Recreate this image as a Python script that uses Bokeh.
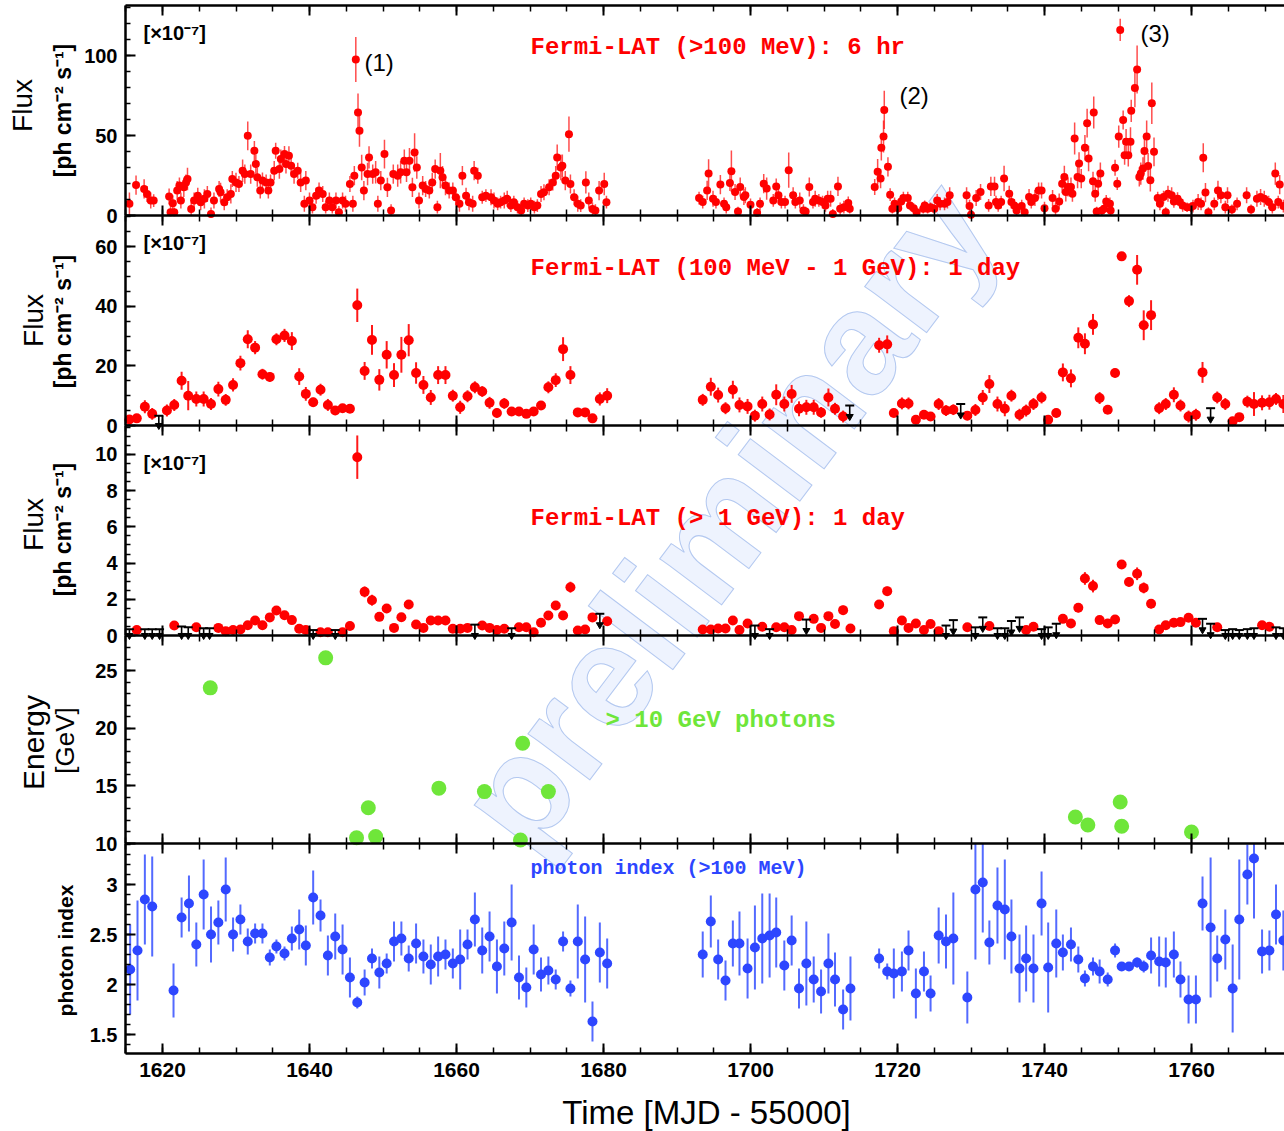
import numpy as np
from bokeh.plotting import figure
from bokeh.models import (Range1d, LinearAxis, FixedTicker, SingleIntervalTicker, Label,
                          ColumnDataSource, CustomJSTickFormatter)
from bokeh.embed import file_html
from bokeh.resources import INLINE

# ---------------- data (MJD - 55000) ----------------
# Panel 1: Fermi-LAT >100 MeV, 6 hr bins  [1e-7 ph cm-2 s-1]
t1a = [
1615.5, 1616.4, 1617.5, 1617.9, 1618.4, 1618.8, 1620.9, 1621.1, 1621.4, 1621.6,
1622.0, 1622.3, 1622.5, 1622.9, 1623.2, 1623.4, 1623.9, 1624.3, 1624.8, 1625.2,
1625.7, 1626.1, 1626.6, 1627.0, 1627.7, 1627.9, 1628.4, 1628.8, 1629.3, 1629.5,
1630.0, 1630.4, 1630.9, 1631.2, 1631.6, 1632.0, 1632.5, 1632.7, 1632.9, 1633.3,
1633.6, 1634.1, 1634.4, 1634.7, 1635.2, 1635.4, 1635.9, 1636.1, 1636.6, 1636.8,
1637.2, 1637.5, 1637.9, 1638.4, 1638.8, 1639.3, 1639.5, 1640.0, 1640.4, 1640.9,
1641.3, 1641.8, 1642.2, 1642.7, 1643.1, 1643.6, 1644.0, 1644.5, 1644.9, 1645.5,
1645.9, 1646.1, 1646.3, 1646.6, 1646.8, 1647.1, 1647.4, 1647.9, 1648.1, 1648.6,
1649.0, 1649.3, 1649.7, 1650.2, 1650.6, 1651.1, 1651.4, 1652.0, 1652.4, 1652.9,
1653.2, 1653.6, 1654.0, 1654.3, 1654.6, 1654.9, 1655.4, 1655.8, 1656.3, 1656.7,
1657.1, 1657.4, 1657.8, 1658.1, 1658.5, 1659.0, 1659.5, 1659.9, 1660.4, 1660.8,
1661.3, 1661.7, 1662.2, 1662.4, 1662.9, 1663.5, 1664.0, 1664.7, 1665.1, 1665.6,
1666.0, 1666.5, 1666.9, 1667.4, 1667.8, 1668.3, 1668.8, 1669.2, 1669.7, 1670.1,
1670.6, 1671.0, 1671.5, 1671.9, 1672.6, 1673.1, 1673.5, 1673.7, 1674.2, 1674.4,
1674.8, 1675.3, 1675.5, 1676.0, 1676.5, 1676.9, 1677.6, 1678.0, 1678.5, 1678.9,
1679.4, 1680.1, 1680.4]
f1a = [
7.3, 19, 16.6, 13.5, 9.3, 9.3, 11.8, 2, 7.7, 2,
15.6, 18.7, 9.3, 17.6, 20.7, 22.8, 4.1, 9.3, 12.4, 8.3,
10.4, 13.5, 1, 9.3, 16.6, 14.5, 8.3, 11.4, 13.5, 22.8,
20.7, 19.7, 28, 25.9, 49.8, 25.9, 40.5, 32.2, 23.9, 15.6,
21.8, 20.7, 15.6, 20.7, 28, 40.5, 29, 35.3, 38.4, 32.2,
37.3, 31.1, 25.9, 28, 20.7, 7.3, 21.8, 9.3, 5.2, 12.4,
15.6, 13.5, 5.2, 9.3, 5.2, 9.3, 2, 9.3, 7.3, 19.7,
7.3, 24.9, 97.5, 64.3, 52.9, 30, 15.6, 25.9, 36.3, 25.9,
27, 7.3, 21.8, 38.4, 17.6, 3.1, 25.9, 24.9, 27, 34.2,
27, 34.2, 17.6, 39.4, 30, 9.3, 18.7, 16.6, 15.6, 20.7,
29, 5.2, 28, 23.9, 18.7, 15.6, 15.6, 11.4, 7.3, 24.9,
12.4, 8.3, 7.3, 28, 24.9, 11.4, 12.4, 11.4, 9.3, 7.3,
8.3, 9.3, 10.4, 6.2, 8.3, 5.2, 3.1, 7.3, 6.2, 7.3,
5.2, 6.2, 13.5, 14.5, 17.6, 20.7, 24.9, 36.3, 30, 31.1,
21.8, 50.8, 19.7, 11.4, 7.3, 6.2, 20.7, 9.3, 4.1, 3.1,
15.6, 19.7, 8.3]
e1a = [
7, 6, 6, 5, 5, 4, 5, 4, 5, 3,
6, 5, 5, 6, 5, 7, 4, 5, 5, 5,
6, 5, 4, 5, 5, 6, 5, 5, 6, 5,
6, 5, 7, 6, 9, 6, 6, 6, 6, 5,
5, 5, 5, 5, 6, 5, 6, 6, 5, 6,
6, 5, 6, 5, 6, 5, 6, 5, 4, 5,
5, 5, 4, 5, 4, 5, 4, 5, 5, 5,
5, 6, 14, 12, 10, 8, 6, 7, 7, 6,
7, 5, 6, 9, 6, 4, 6, 7, 7, 7,
6, 8, 6, 12, 7, 5, 6, 5, 5, 6,
6, 4, 11, 7, 6, 5, 5, 5, 5, 6,
5, 5, 5, 6, 5, 4, 4, 5, 5, 4,
4, 5, 5, 4, 4, 4, 4, 4, 4, 4,
4, 4, 5, 5, 5, 5, 6, 8, 8, 7,
6, 11, 6, 5, 5, 4, 7, 5, 4, 4,
6, 7, 4]
t1b = [
1693.0, 1693.5, 1694.1, 1694.3, 1694.9, 1695.3, 1695.9, 1696.4, 1696.7, 1697.2,
1697.4, 1697.9, 1698.3, 1698.6, 1699.1, 1699.3, 1700.0, 1700.9, 1701.3, 1701.8,
1702.2, 1703.1, 1703.5, 1703.8, 1704.2, 1704.7, 1705.2, 1705.8, 1706.1, 1706.7,
1707.2, 1707.5, 1708.0, 1708.5, 1708.8, 1709.3, 1709.8, 1710.2, 1710.5, 1710.9,
1711.2, 1711.9, 1712.2, 1712.7, 1713.3, 1713.5, 1716.9, 1717.3, 1717.7, 1717.8,
1718.1, 1718.2, 1718.7, 1719.0, 1719.3, 1719.6, 1720.1, 1720.5, 1720.8, 1721.4,
1721.7, 1722.2, 1722.6, 1723.5, 1723.7, 1724.1, 1724.5, 1725.0, 1725.4, 1725.8,
1726.4, 1726.8, 1727.1, 1729.4, 1729.8, 1730.0, 1730.7, 1731.3, 1732.4, 1732.7,
1733.2, 1733.4, 1733.7, 1734.1, 1734.5, 1735.2, 1735.5, 1735.9, 1736.2, 1736.9,
1737.3, 1737.9, 1738.2, 1738.7, 1739.2, 1739.6, 1740.0, 1741.1, 1741.5, 1742.0,
1742.4, 1742.7, 1742.9, 1743.2, 1743.6, 1743.8, 1744.1, 1744.5, 1744.7, 1745.0,
1745.5, 1745.8, 1746.0, 1746.6, 1746.7, 1746.9, 1747.1, 1747.3, 1747.6, 1747.8,
1748.1, 1748.4, 1748.9, 1749.0, 1749.6, 1749.9, 1750.1, 1750.3, 1750.7, 1750.9,
1751.1, 1751.4, 1751.7, 1751.8, 1752.3, 1752.6, 1752.9, 1753.1, 1753.4, 1753.6,
1753.9, 1754.1, 1754.4, 1754.6, 1754.9, 1755.4, 1755.7, 1756.2, 1756.5, 1756.8,
1757.3, 1757.6, 1758.1, 1758.4, 1758.8, 1759.4, 1759.9, 1760.2, 1760.9, 1761.3,
1761.6, 1761.9, 1762.3, 1763.1, 1763.6, 1764.0, 1764.6, 1764.9, 1765.5, 1766.2,
1767.5, 1768.1, 1768.9, 1769.4, 1769.9, 1770.5, 1771.0, 1771.4, 1771.8, 1772.0,
1772.5]
f1b = [
10.9, 8.4, 15.7, 26.2, 10.5, 8.4, 19.3, 7.3, 5.2, 20.3,
27.7, 14.7, 2.5, 17.8, 11.5, 12.6, 6.7, 1.7, 7.3, 19.9,
16.8, 9.4, 18.2, 12.6, 8.4, 8.4, 28.3, 12.6, 8.4, 9.4,
3.1, 2.5, 17.8, 8.4, 10.5, 9.4, 8.4, 6.3, 10.5, 10.5,
1.0, 18.2, 4.2, 5.2, 7.8, 4.2, 17.8, 27.3, 23.1, 42.3,
49.3, 66.0, 30.4, 13.0, 4.2, 7.3, 4.6, 8.8, 10.9, 10.9,
6.3, 4.6, 2.1, 4.2, 6.3, 4.2, 5.2, 4.2, 9.4, 7.3,
7.3, 8.4, 12.6, 12.6, 5.9, 0.5, 10.9, 14.7, 6.3, 18.2,
18.2, 8.4, 6.3, 8.4, 23.1, 13.6, 8.4, 6.3, 3.1, 5.9,
2.1, 11.5, 8.4, 10.9, 15.7, 15.7, 4.6, 10.9, 4.2, 8.8,
19.9, 24.1, 14.7, 17.8, 17.8, 13.6, 48.2, 24.1, 32.5, 23.1,
42.3, 57.7, 35.6, 21.4, 64.4, 13.6, 2.5, 19.9, 26.2, 3.1,
4.2, 8.8, 7.3, 3.1, 29.8, 19.9, 49.3, 116.0, 59.7, 37.7,
46.1, 37.7, 46.1, 65.4, 79.7, 91.2, 24.1, 26.2, 29.4, 40.3,
49.3, 31.0, 22.0, 70.2, 39.8, 10.9, 7.3, 11.5, 2.1, 13.6,
12.6, 8.8, 10.5, 8.4, 6.3, 5.2, 5.2, 5.9, 8.4, 7.3,
36.1, 14.3, 2.1, 7.3, 15.7, 12.6, 5.2, 12.6, 3.8, 7.3,
12.6, 3.8, 10.5, 11.5, 10.5, 8.4, 5.2, 26.2, 8.4, 19.3,
5.9]
e1b = [
4, 4, 6, 9, 5, 4, 6, 4, 4, 5,
13, 5, 3, 6, 5, 5, 4, 3, 4, 6,
7, 4, 5, 5, 4, 4, 11, 5, 4, 5,
4, 3, 6, 4, 5, 4, 4, 4, 5, 5,
3, 6, 4, 4, 4, 3, 5, 8, 6, 8,
10, 12, 6, 4, 3, 4, 3, 4, 4, 4,
3, 3, 3, 3, 3, 3, 3, 3, 4, 4,
4, 4, 5, 5, 4, 3, 5, 5, 4, 6,
6, 4, 4, 4, 8, 5, 4, 4, 3, 4,
3, 5, 4, 5, 5, 5, 4, 5, 4, 5,
6, 7, 6, 6, 6, 5, 10, 7, 7, 6,
8, 9, 8, 6, 10, 5, 3, 6, 7, 3,
3, 4, 4, 3, 5, 4, 7, 7, 6, 6,
8, 7, 9, 7, 12, 15, 6, 7, 7, 9,
10, 8, 7, 13, 9, 4, 4, 4, 3, 5,
5, 4, 4, 4, 4, 3, 3, 4, 5, 4,
9, 6, 3, 4, 6, 5, 4, 5, 3, 4,
5, 3, 5, 5, 5, 4, 4, 7, 4, 6,
4]

# Panel 2: 100 MeV - 1 GeV, 1 day bins
t2 = [
1615.5, 1616.5, 1617.6, 1618.6, 1620.6, 1621.6, 1622.6, 1623.5, 1624.6, 1625.6,
1626.6, 1627.6, 1628.6, 1629.6, 1630.6, 1631.6, 1632.6, 1633.6, 1634.6, 1635.5,
1636.6, 1637.6, 1638.6, 1639.5, 1640.5, 1641.5, 1642.5, 1643.5, 1644.5, 1645.5,
1646.5, 1647.5, 1648.5, 1649.5, 1650.5, 1651.5, 1652.5, 1653.5, 1654.5, 1655.5,
1656.5, 1657.5, 1658.5, 1659.5, 1660.5, 1661.5, 1662.5, 1663.5, 1664.5, 1665.5,
1666.5, 1667.5, 1668.5, 1669.5, 1670.5, 1671.5, 1672.5, 1673.5, 1674.5, 1675.5,
1676.5, 1677.5, 1678.5, 1679.5, 1680.5, 1693.5, 1694.6, 1695.6, 1696.6, 1697.6,
1698.5, 1699.6, 1700.6, 1701.6, 1702.6, 1703.5, 1704.6, 1705.6, 1706.6, 1707.6,
1708.6, 1709.6, 1710.6, 1711.5, 1712.6, 1717.5, 1718.6, 1719.5, 1720.6, 1721.5,
1722.5, 1723.6, 1724.5, 1725.6, 1726.6, 1727.6, 1729.5, 1730.6, 1731.6, 1732.5,
1733.6, 1734.6, 1735.5, 1736.6, 1737.5, 1738.5, 1739.6, 1740.5, 1741.6, 1742.5,
1743.6, 1744.6, 1745.5, 1746.6, 1747.5, 1748.6, 1749.6, 1750.5, 1751.5, 1752.6,
1753.5, 1754.5, 1755.6, 1756.5, 1757.6, 1758.5, 1759.6, 1760.6, 1761.5, 1763.5,
1764.6, 1765.6, 1766.5, 1767.6, 1768.5, 1769.6, 1770.6, 1771.5, 1772.5]
f2 = [
2.0, 2.4, 6.3, 3.9, 5.0, 6.9, 15.0, 10.0, 8.9, 8.9,
7.2, 12.2, 8.6, 13.6, 20.9, 28.9, 26.1, 17.2, 16.3, 28.9,
30.2, 28.3, 16.4, 10.6, 7.8, 12.0, 6.9, 5.0, 5.8, 5.6,
40.3, 18.3, 28.7, 15.3, 23.7, 16.9, 23.7, 28.6, 17.6, 13.6,
9.4, 16.9, 16.9, 10.0, 6.1, 9.8, 12.8, 11.4, 7.6, 4.2,
7.4, 4.7, 4.7, 3.9, 4.7, 6.7, 12.8, 15.2, 25.6, 16.9,
4.4, 4.4, 2.4, 8.9, 10.0, 8.6, 13.0, 10.2, 5.8, 12.0,
6.9, 6.4, 3.3, 7.2, 3.7, 10.3, 7.2, 10.6, 5.6, 6.1,
6.1, 4.4, 9.4, 5.6, 3.0, 26.9, 27.2, 4.2, 7.4, 7.4,
1.9, 3.6, 3.0, 7.2, 5.0, 5.3, 3.3, 5.2, 9.4, 13.9,
7.2, 5.6, 10.0, 3.6, 5.0, 7.2, 9.4, 1.9, 4.2, 17.8,
15.8, 29.4, 27.4, 33.9, 9.2, 5.3, 17.6, 56.7, 41.7, 52.2,
33.6, 37.0, 5.8, 7.2, 10.3, 6.7, 3.0, 3.6, 17.8, 9.4,
7.2, 1.4, 2.8, 8.0, 7.2, 7.6, 7.8, 8.9, 7.2]
e2 = [
1.0, 1.2, 2.2, 2.0, 2.0, 2.0, 3.0, 4.9, 2.5, 2.5,
2.0, 2.5, 2.0, 2.2, 2.5, 3.0, 2.2, 1.8, 1.6, 2.0,
2.2, 3.0, 2.8, 2.3, 1.5, 2.0, 2.0, 1.5, 1.3, 1.2,
5.6, 3.0, 5.0, 3.6, 4.6, 4.0, 6.0, 5.4, 3.6, 3.0,
2.5, 3.0, 3.0, 2.0, 2.2, 2.0, 2.0, 1.8, 2.0, 1.5,
1.8, 1.2, 1.2, 1.2, 1.2, 1.5, 2.0, 2.3, 4.0, 3.0,
1.5, 1.5, 1.0, 2.2, 2.5, 2.0, 3.0, 2.5, 2.0, 3.0,
2.5, 2.5, 2.0, 2.5, 2.0, 3.5, 2.5, 3.0, 2.5, 2.5,
2.5, 1.8, 3.0, 2.0, 2.0, 2.5, 3.0, 1.0, 2.0, 2.0,
1.0, 1.0, 1.0, 2.0, 1.8, 1.8, 1.5, 2.0, 2.5, 3.0,
2.5, 2.5, 2.0, 2.0, 2.0, 2.0, 2.0, 1.0, 1.5, 3.0,
3.0, 3.5, 3.5, 3.5, 2.0, 1.0, 1.5, 1.5, 2.0, 5.0,
5.0, 5.0, 2.0, 2.0, 2.5, 2.0, 2.0, 2.0, 3.5, 2.0,
2.0, 1.0, 1.0, 2.0, 4.0, 2.5, 2.5, 2.0, 3.0]
t2_ul = [1619.5, 1713.5, 1728.6, 1762.6]
f2_ul = [3.3, 6.7, 7.2, 5.8]

# Panel 3: > 1 GeV, 1 day bins
t3 = [
1616.5, 1621.6, 1624.6, 1627.6, 1628.6, 1629.6, 1630.6, 1631.6, 1632.6, 1633.6,
1634.6, 1635.5, 1636.6, 1637.6, 1638.6, 1639.5, 1641.5, 1642.5, 1644.5, 1645.5,
1646.5, 1647.5, 1648.5, 1649.5, 1650.5, 1651.5, 1652.5, 1653.5, 1654.5, 1655.5,
1656.5, 1657.5, 1658.5, 1659.5, 1660.5, 1661.5, 1663.5, 1664.5, 1665.5, 1666.5,
1668.5, 1669.5, 1670.5, 1671.5, 1672.5, 1673.5, 1674.5, 1675.5, 1676.5, 1677.5,
1678.5, 1680.5, 1693.5, 1694.6, 1695.6, 1696.6, 1697.6, 1698.5, 1699.6, 1701.6,
1703.5, 1704.6, 1705.6, 1706.6, 1708.6, 1709.6, 1710.6, 1711.5, 1712.6, 1713.6,
1717.5, 1718.6, 1719.5, 1720.6, 1721.5, 1722.5, 1723.6, 1724.5, 1725.6, 1729.5,
1732.5, 1737.5, 1738.5, 1742.5, 1743.6, 1744.6, 1745.5, 1746.6, 1747.5, 1748.6,
1749.6, 1750.5, 1751.5, 1752.6, 1753.5, 1754.5, 1755.6, 1756.5, 1757.6, 1758.5,
1759.6, 1760.6, 1763.5, 1769.6, 1770.6]
f3 = [
0.30, 0.55, 0.46, 0.42, 0.24, 0.30, 0.33, 0.57, 0.83, 0.57,
1.00, 1.38, 1.12, 0.85, 0.37, 0.30, 0.18, 0.18, 0.18, 0.52,
9.85, 2.41, 1.95, 1.03, 1.49, 0.42, 1.01, 1.71, 0.61, 0.42,
0.83, 0.83, 0.83, 0.37, 0.37, 0.42, 0.55, 0.42, 0.30, 0.37,
0.46, 0.46, 0.18, 0.70, 1.10, 1.66, 1.10, 2.67, 0.28, 0.33,
1.00, 0.79, 0.33, 0.33, 0.39, 0.39, 0.83, 0.30, 0.66, 0.48,
0.46, 0.46, 0.30, 1.07, 0.92, 0.42, 1.07, 0.64, 1.40, 0.39,
1.71, 2.45, 0.24, 0.83, 0.42, 0.66, 0.30, 0.64, 0.24, 0.46,
0.52, 0.30, 0.48, 0.92, 0.66, 1.53, 3.15, 2.73, 0.85, 0.66,
0.88, 3.92, 2.96, 3.41, 2.63, 1.75, 0.33, 0.57, 0.70, 0.74,
0.98, 0.70, 0.46, 0.57, 0.48]
e3 = [
0.08, 0.10, 0.10, 0.10, 0.08, 0.08, 0.08, 0.10, 0.12, 0.10,
0.12, 0.12, 0.12, 0.15, 0.10, 0.08, 0.06, 0.06, 0.06, 0.12,
1.20, 0.30, 0.30, 0.22, 0.25, 0.12, 0.20, 0.25, 0.15, 0.10,
0.15, 0.15, 0.15, 0.10, 0.10, 0.10, 0.10, 0.10, 0.08, 0.10,
0.10, 0.10, 0.06, 0.12, 0.15, 0.20, 0.18, 0.30, 0.08, 0.08,
0.20, 0.20, 0.08, 0.08, 0.08, 0.08, 0.15, 0.08, 0.15, 0.12,
0.10, 0.10, 0.08, 0.20, 0.20, 0.10, 0.20, 0.15, 0.25, 0.10,
0.20, 0.25, 0.08, 0.15, 0.10, 0.10, 0.08, 0.10, 0.08, 0.10,
0.12, 0.08, 0.10, 0.20, 0.15, 0.25, 0.35, 0.35, 0.15, 0.12,
0.12, 0.20, 0.25, 0.35, 0.30, 0.25, 0.08, 0.10, 0.12, 0.12,
0.15, 0.12, 0.10, 0.10, 0.10]
t3_ul = [1615.5, 1617.6, 1618.6, 1619.6, 1622.6, 1623.5, 1625.6, 1626.4, 1640.5, 1643.5,
         1662.5, 1667.5, 1679.5, 1700.6, 1702.6, 1707.6, 1726.6, 1727.6, 1730.6, 1731.6,
         1733.6, 1734.6, 1735.5, 1736.6, 1739.6, 1740.5, 1741.6, 1761.5, 1762.6, 1764.6,
         1765.6, 1766.5, 1767.6, 1768.5, 1771.5, 1772.5]
f3_ul = [0.35, 0.35, 0.35, 0.35, 0.5, 0.45, 0.4, 0.4, 0.3, 0.3,
         0.6, 0.4, 1.2, 0.55, 0.35, 0.88, 0.55, 0.85, 0.45, 1.0,
         0.4, 0.4, 0.8, 1.0, 0.35, 0.45, 0.65, 0.92, 0.65, 0.3,
         0.35, 0.3, 0.35, 0.4, 0.45, 0.4]

# Panel 4: > 10 GeV photons [GeV]
t4 = [1626.5, 1642.2, 1646.4, 1648.0, 1649.0, 1657.6, 1663.8, 1668.7, 1669.0, 1672.5,
      1744.2, 1745.9, 1750.3, 1750.5, 1760.0]
en4 = [23.5, 26.1, 10.5, 13.1, 10.6, 14.8, 14.5, 10.3, 18.7, 14.5,
       12.3, 11.6, 13.6, 11.5, 11.0]

# Panel 5: photon index (>100 MeV)
t5 = [
1615.6, 1616.6, 1617.6, 1618.6, 1621.5, 1622.6, 1623.6, 1624.6, 1625.6, 1626.6,
1627.6, 1628.6, 1629.6, 1630.6, 1631.6, 1632.6, 1633.6, 1634.6, 1635.5, 1636.6,
1637.6, 1638.6, 1639.5, 1640.5, 1641.5, 1642.5, 1643.5, 1644.5, 1645.5, 1646.5,
1647.5, 1648.5, 1649.5, 1650.5, 1651.5, 1652.5, 1653.5, 1654.5, 1655.5, 1656.5,
1657.5, 1658.5, 1659.5, 1660.5, 1661.5, 1662.5, 1663.5, 1664.5, 1665.5, 1666.5,
1667.5, 1668.5, 1669.5, 1670.5, 1671.5, 1672.5, 1673.5, 1674.5, 1675.5, 1676.5,
1677.5, 1678.5, 1679.5, 1680.5,
1693.5, 1694.6, 1695.6, 1696.6, 1697.6, 1698.5, 1699.6, 1700.6, 1701.6, 1702.6,
1703.5, 1704.6, 1705.6, 1706.6, 1707.6, 1708.6, 1709.6, 1710.6, 1711.5, 1712.6,
1713.6, 1717.5, 1718.6, 1719.5, 1720.6, 1721.5, 1722.5, 1723.6, 1724.5, 1725.6,
1726.6, 1727.6, 1729.5, 1730.6, 1731.6, 1732.5, 1733.6, 1734.6, 1735.5, 1736.6,
1737.5, 1738.5, 1739.6, 1740.5, 1741.6, 1742.5, 1743.6, 1744.6, 1745.5, 1746.6,
1747.5, 1748.6, 1749.6, 1750.5, 1751.5, 1752.6, 1753.5, 1754.5, 1755.6, 1756.5,
1757.6, 1758.5, 1759.6, 1760.6, 1761.5, 1762.6, 1763.5, 1764.6, 1765.6, 1766.5,
1767.6, 1768.5, 1769.6, 1770.6, 1771.5, 1772.5]
g5 = [
2.15, 2.34, 2.85, 2.78, 1.94, 2.67, 2.81, 2.40, 2.90, 2.50,
2.62, 2.95, 2.50, 2.65, 2.43, 2.51, 2.51, 2.27, 2.38, 2.31,
2.46, 2.55, 2.39, 2.87, 2.69, 2.29, 2.48, 2.35, 2.07, 1.82,
2.02, 2.26, 2.12, 2.21, 2.43, 2.46, 2.26, 2.41, 2.28, 2.20,
2.28, 2.30, 2.21, 2.25, 2.40, 2.65, 2.34, 2.48, 2.18, 2.36,
2.62, 2.07, 1.97, 2.35, 2.10, 2.14, 2.05, 2.43, 1.96, 2.43,
2.25, 1.63, 2.32, 2.21,
2.30, 2.63, 2.25, 2.04, 2.41, 2.41, 2.16, 2.37, 2.46, 2.49,
2.52, 2.19, 2.44, 1.96, 2.21, 2.05, 1.93, 2.21, 2.05, 1.75,
1.96, 2.26, 2.13, 2.11, 2.13, 2.34, 1.91, 2.13, 1.91, 2.49,
2.43, 2.46, 1.87, 2.95, 3.02, 2.42, 2.79, 2.75, 2.48, 2.16,
2.26, 2.16, 2.81, 2.17, 2.41, 2.32, 2.40, 2.25, 2.06, 2.18,
2.13, 2.05, 2.34, 2.18, 2.18, 2.22, 2.18, 2.29, 2.23, 2.22,
2.30, 2.05, 1.85, 1.85, 2.81, 2.57, 2.26, 2.45, 1.96, 2.65,
3.10, 3.26, 2.33, 2.34, 2.70, 2.44]
ge5 = [
0.45, 0.5, 0.45, 0.5, 0.27, 0.2, 0.28, 0.22, 0.35, 0.28,
0.22, 0.32, 0.17, 0.15, 0.13, 0.1, 0.1, 0.08, 0.07, 0.07,
0.12, 0.2, 0.2, 0.27, 0.16, 0.2, 0.23, 0.25, 0.2, 0.06,
0.13, 0.1, 0.16, 0.1, 0.2, 0.17, 0.13, 0.2, 0.17, 0.2,
0.2, 0.15, 0.15, 0.3, 0.15, 0.27, 0.23, 0.25, 0.27, 0.27,
0.38, 0.22, 0.2, 0.25, 0.17, 0.14, 0.1, 0.1, 0.08, 0.37,
0.43, 0.2, 0.3, 0.25,
0.23, 0.26, 0.2, 0.2, 0.23, 0.32, 0.3, 0.42, 0.45, 0.42,
0.35, 0.25, 0.25, 0.2, 0.42, 0.23, 0.22, 0.3, 0.27, 0.2,
0.32, 0.1, 0.08, 0.25, 0.2, 0.2, 0.25, 0.2, 0.18, 0.28,
0.27, 0.46, 0.26, 0.7, 0.5, 0.22, 0.38, 0.5, 0.37, 0.34,
0.33, 0.34, 0.32, 0.45, 0.34, 0.18, 0.17, 0.13, 0.08, 0.09,
0.12, 0.07, 0.07, 0.03, 0.03, 0.05, 0.06, 0.18, 0.25, 0.25,
0.23, 0.18, 0.24, 0.24, 0.27, 0.7, 0.23, 0.3, 0.44, 0.6,
0.3, 0.6, 0.22, 0.2, 0.3, 0.3]

# ---------------- layout (frame = whole canvas; page pixels <-> data) ----------------
W, H = 1284, 1131


def PX(xpage):            # page x pixel -> MJD
    return 1620 + (xpage - 162) / 7.35


def PY(ypage):            # page y pixel -> default y (px from canvas bottom)
    return H - ypage


X_LEFT = PX(125)
X_END = PX(W)

p = figure(width=W, height=H, output_backend="svg", toolbar_location=None,
           x_range=Range1d(PX(0), X_END), y_range=Range1d(0, H),
           x_axis_location=None, y_axis_location=None,
           min_border=0, min_border_left=0, min_border_right=0,
           min_border_top=0, min_border_bottom=0,
           background_fill_color="white", border_fill_color="white")
p.outline_line_color = None
p.grid.visible = False

# panel bands in page pixels (top, bottom) and data limits
PANELS = {
    "p1": ((5, 215), (0.0, 131.25)),
    "p2": ((215, 425), (0.0, 70.4)),
    "p3": ((425, 635), (0.0, 11.6)),
    "p4": ((635, 843), (10.0, 28.04)),
    "p5": ((843, 1053), (1.31, 3.41)),
}
PXU = {}
for name, ((ptop, pbot), (a, b)) in PANELS.items():
    u = (b - a) / (pbot - ptop)
    PXU[name] = 1.0 / u
    p.extra_y_ranges[name] = Range1d(start=a - (H - pbot) * u, end=b + ptop * u)

TICKFONT = "Liberation Sans"


def add_yaxis(name, majors, minors, fmt=None):
    lo, hi = PANELS[name][1]
    ax = LinearAxis(y_range_name=name, fixed_location=X_LEFT, bounds=(lo, hi),
                    ticker=FixedTicker(ticks=list(majors), minor_ticks=list(minors)),
                    major_tick_in=10, major_tick_out=0, minor_tick_in=5, minor_tick_out=0,
                    major_tick_line_width=2, minor_tick_line_width=1.5,
                    axis_line_width=2.5, major_label_standoff=8,
                    major_label_text_font=TICKFONT, major_label_text_font_style="bold",
                    major_label_text_font_size="20px", major_label_text_color="black")
    if fmt is not None:
        ax.formatter = fmt
    p.add_layout(ax, "left")


add_yaxis("p1", [0, 50, 100], np.arange(0, 131, 10))
add_yaxis("p2", [0, 20, 40, 60], np.arange(0, 70.4, 5))
add_yaxis("p3", [0, 2, 4, 6, 8, 10], np.arange(0, 11.6, 0.5))
add_yaxis("p4", [10, 15, 20, 25], np.arange(10, 28.05, 1))
add_yaxis("p5", [1.5, 2, 2.5, 3], np.round(np.arange(1.4, 3.41, 0.1), 2),
          fmt=CustomJSTickFormatter(code="return String(Math.round(tick*100)/100)"))


def xticker():
    return SingleIntervalTicker(interval=20, num_minor_ticks=4)


# bottom time axis (with labels)
bx = LinearAxis(fixed_location=PY(1053), bounds=(X_LEFT, X_END), ticker=xticker(),
                major_tick_in=10, major_tick_out=0, minor_tick_in=6, minor_tick_out=0,
                major_tick_line_width=2, minor_tick_line_width=1.5, axis_line_width=2.5,
                major_label_standoff=9, major_label_text_font=TICKFONT,
                major_label_text_font_style="bold", major_label_text_font_size="21px",
                major_label_text_color="black")
p.add_layout(bx, "below")

# panel separators with ticks on both sides
for ypg in [215, 425, 635, 843]:
    ax = LinearAxis(fixed_location=PY(ypg), bounds=(X_LEFT, X_END), ticker=xticker(),
                    major_tick_in=10, major_tick_out=10, minor_tick_in=6, minor_tick_out=6,
                    major_tick_line_width=2, minor_tick_line_width=1.5, axis_line_width=2.5,
                    major_label_text_font_size="0px", major_label_text_alpha=0)
    p.add_layout(ax, "below")
top = LinearAxis(fixed_location=PY(5), bounds=(X_LEFT, X_END), ticker=xticker(),
                 major_tick_in=10, major_tick_out=0, minor_tick_in=6, minor_tick_out=0,
                 major_tick_line_width=2, minor_tick_line_width=1.5, axis_line_width=2.5,
                 major_label_text_font_size="0px", major_label_text_alpha=0)
p.add_layout(top, "above")


# ---------------- helpers ----------------
def errbars(t, v, e, name, color, width, alpha):
    n = min(len(t), len(v), len(e))
    t = np.asarray(t[:n], float); v = np.asarray(v[:n], float); e = np.asarray(e[:n], float)
    lo, hi = PANELS[name][1]
    src = ColumnDataSource(dict(x=t, y0=np.clip(v - e, lo, hi), y1=np.clip(v + e, lo, hi)))
    p.segment(x0="x", y0="y0", x1="x", y1="y1", source=src, y_range_name=name,
              line_color=color, line_width=width, line_alpha=alpha)


def dots(t, v, name, color, size):
    n = min(len(t), len(v))
    p.scatter(x=list(t[:n]), y=list(v[:n]), size=size, marker="circle",
              fill_color=color, line_color=None, y_range_name=name)


def uplims(t, ul, name, length_px=11):
    lo, hi = PANELS[name][1]
    ul = np.asarray(ul, float)
    tip = np.maximum(ul - length_px / PXU[name], lo)
    src = ColumnDataSource(dict(x=list(t), ul=ul, tip=tip))
    p.segment(x0="x", y0="ul", x1="x", y1="tip", source=src, y_range_name=name,
              line_color="black", line_width=1.6)
    p.scatter(x="x", y="ul", source=src, marker="dash", size=9, line_color="black",
              line_width=2, y_range_name=name)
    p.scatter(x="x", y="tip", source=src, marker="inverted_triangle", size=7,
              fill_color="black", line_color="black", y_range_name=name)


RED = "#ff0000"
BLUE = "#2d46ff"
GREEN = "#6fe63a"

# watermark (under the data)
p.add_layout(Label(x=PX(726), y=PY(514), text="preliminary", text_font="Liberation Sans",
                   text_font_size="146px", text_font_style="bold",
                   text_color="#eef3fe", text_outline_color="#b3c8f0",
                   text_align="center", text_baseline="middle", angle=53, angle_units="deg",
                   level="underlay"))

errbars(t1a, f1a, e1a, "p1", RED, 1.5, 0.7)
errbars(t1b, f1b, e1b, "p1", RED, 1.5, 0.7)
dots(t1a, f1a, "p1", RED, 8)
dots(t1b, f1b, "p1", RED, 8)

errbars(t2, f2, e2, "p2", RED, 2, 0.9)
dots(t2, f2, "p2", RED, 10)
uplims(t2_ul, f2_ul, "p2")

errbars(t3, f3, e3, "p3", RED, 2, 0.9)
dots(t3, f3, "p3", RED, 10)
uplims(t3_ul, f3_ul, "p3")

dots(t4, en4, "p4", GREEN, 15)

errbars(t5, g5, ge5, "p5", "#4a62ff", 2, 0.95)
dots(t5, g5, "p5", BLUE, 10)


# ---------------- texts (positions given in page pixels) ----------------
def txt(x, y, s, size, color="black", font="Liberation Sans", style="normal",
        align="left", angle=0):
    p.add_layout(Label(x=PX(x), y=PY(y), text=s, text_font=font, text_font_size=size,
                       text_font_style=style, text_color=color, text_align=align,
                       text_baseline="middle", angle=angle, angle_units="deg"))


UNITS = "[ph cm\u207b\u00b2 s\u207b\u00b9]"
# y titles
txt(22, 105, "Flux", "28px", align="center", angle=90)
txt(62, 110, UNITS, "23px", style="bold", align="center", angle=90)
txt(33, 320, "Flux", "28px", align="center", angle=90)
txt(62, 321, UNITS, "23px", style="bold", align="center", angle=90)
txt(33, 524, "Flux", "28px", align="center", angle=90)
txt(62, 529, UNITS, "23px", style="bold", align="center", angle=90)
txt(33, 742, "Energy", "30px", align="center", angle=90)
txt(64, 740, "[GeV]", "26px", align="center", angle=90)
txt(65, 950, "photon index", "21px", style="bold", align="center", angle=90)

# scale markers
for yy in (32, 242, 462):
    txt(143, yy, "[\u00d710\u207b\u2077]", "20px", style="bold")

# panel titles
MONO = "Liberation Mono"
txt(530, 47, "Fermi-LAT (>100 MeV): 6 hr", "24px", color=RED, font=MONO, style="bold")
txt(530, 268, "Fermi-LAT (100 MeV - 1 GeV): 1 day", "24px", color=RED, font=MONO, style="bold")
txt(530, 518, "Fermi-LAT (> 1 GeV): 1 day", "24px", color=RED, font=MONO, style="bold")
txt(605, 720, "> 10 GeV photons", "24px", color=GREEN, font=MONO, style="bold")
txt(530, 868, "photon index (>100 MeV)", "20px", color=BLUE, font=MONO, style="bold")

# flare markers
txt(364, 62, "(1)", "24px")
txt(899, 95, "(2)", "24px")
txt(1140, 33, "(3)", "24px")

# x title
txt(706, 1112, "Time [MJD - 55000]", "33px", align="center")

open("out.html", "w").write(file_html(p, INLINE))
